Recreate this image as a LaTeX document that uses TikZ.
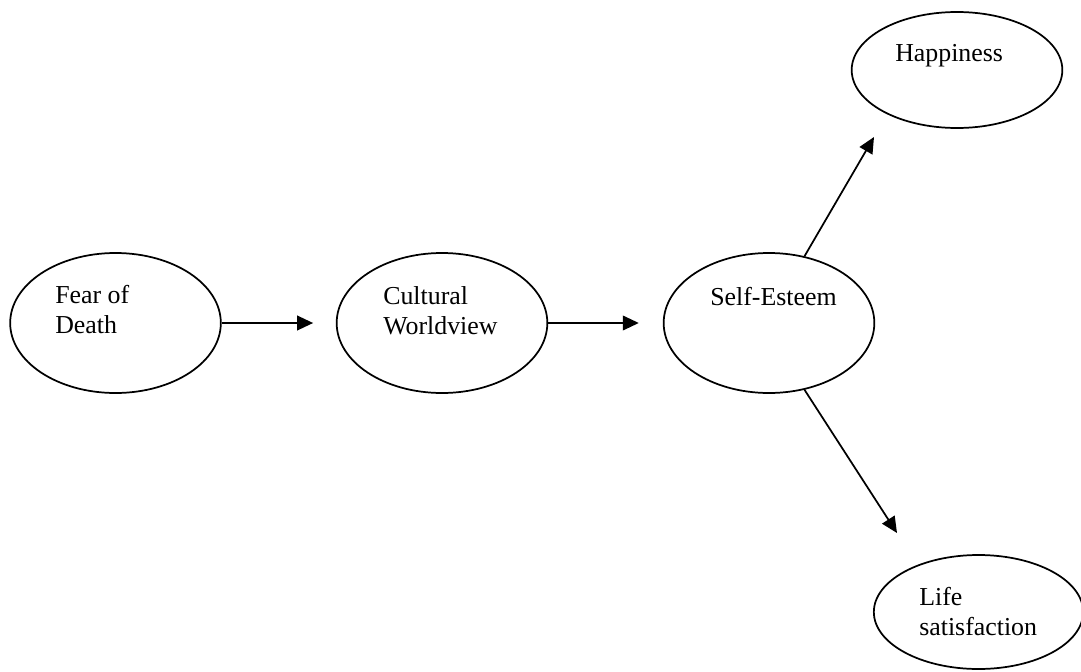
\documentclass[tikz,border=0pt]{standalone}
\usepackage{fontspec}
\setmainfont{Liberation Serif}
\usetikzlibrary{shapes.geometric,arrows.meta}
\begin{document}
\begin{tikzpicture}[x=0.75pt,y=-0.75pt,
  oval/.style={draw, ellipse, line width=1.3pt, inner sep=0pt},
  bigoval/.style={oval, minimum width=158pt, minimum height=105pt},
  label/.style={anchor=base west, inner sep=0pt, align=left,
    font=\fontsize{19.4}{22.5}\selectfont},
  link/.style={line width=1.3pt, -{Triangle[length=12pt,width=11pt]}}]
  \useasboundingbox[fill=white] (0,0) rectangle (1081,671);

  % the five constructs
  \node[bigoval] (fear) at (115.5,323) {};
  \node[bigoval] (cult) at (442,323) {};
  \node[bigoval] (self) at (769,323) {};
  \node[oval, minimum width=158pt, minimum height=87pt] (happy) at (957,70) {};
  \node[oval, minimum width=157pt, minimum height=85.5pt] (life) at (978.5,612) {};

  % their labels, set flush left inside each oval (base = last line)
  \node[label] (fearT) at (55,333) {Fear of\\Death};
  \node[label] (cultT) at (383,334) {Cultural\\Worldview};
  \node[label] (selfT) at (710,305) {Self-Esteem};
  \node[label] (happyT) at (895,61) {Happiness};
  \node[label] (lifeT) at (919,635) {Life\\satisfaction};

  % arrow tips that stop short of the outcome ovals
  \coordinate (happyTip) at (874,137);
  \coordinate (lifeTip) at (897,533);

  \draw[link, shorten >=17pt] (fear) -- (cult);
  \draw[link, shorten >=18pt] (cult) -- (self);
  \draw[link] (self.62.6) -- (happyTip);
  \draw[link] (self.-62.6) -- (lifeTip);
\end{tikzpicture}
\end{document}
